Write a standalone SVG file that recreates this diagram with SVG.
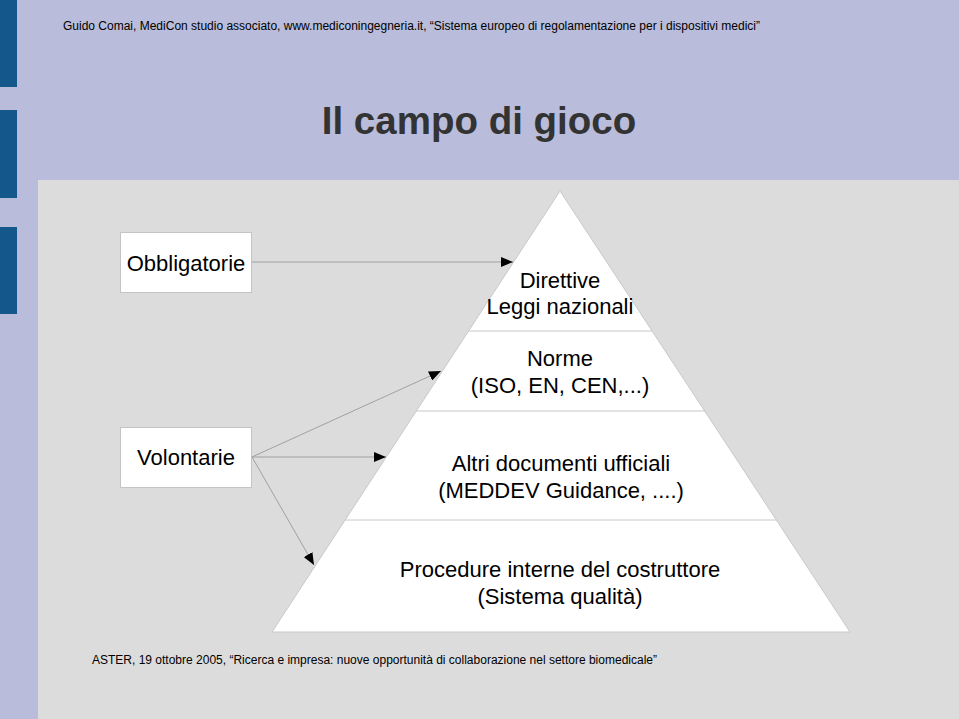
<svg xmlns="http://www.w3.org/2000/svg" width="959" height="719" viewBox="0 0 959 719">
<defs>
<style>
.t{font-family:"Liberation Sans",Arial,sans-serif;fill:#000}
.c{text-anchor:middle;font-size:22px}
.box{fill:#fff;stroke:#c4c4c4;stroke-width:1}
.con{stroke:#a0a0a0;stroke-width:1;fill:none;marker-end:url(#ah)}
.lvl{fill:#fff;stroke:#c8c8c8;stroke-width:1}
</style>
<marker id="ah" viewBox="0 0 12 10" refX="12" refY="5" markerWidth="12" markerHeight="10" markerUnits="userSpaceOnUse" orient="auto">
<path d="M0,0 L12,5 L0,10 Z" fill="#000"/>
</marker>
</defs>
<rect x="0" y="0" width="959" height="719" fill="#b9bcda"/>
<rect x="0" y="0" width="17" height="87" fill="#13578b"/>
<rect x="0" y="110" width="17" height="88" fill="#13578b"/>
<rect x="0" y="227" width="17" height="87" fill="#13578b"/>
<rect x="38" y="180" width="921" height="539" fill="#dcdcdc"/>
<text class="t" x="63" y="30" font-size="12">Guido Comai, MediCon studio associato, www.mediconingegneria.it, “Sistema europeo di regolamentazione per i dispositivi medici”</text>
<text class="t" x="479" y="134" font-size="38.5" font-weight="bold" text-anchor="middle" style="fill:#333">Il campo di gioco</text>
<g id="pyramid">
<polygon class="lvl" points="560,191 272,632 850,632"/>
<line x1="469" y1="331" x2="652" y2="331" stroke="#c8c8c8"/>
<line x1="416" y1="411" x2="705" y2="411" stroke="#c8c8c8"/>
<line x1="345" y1="520" x2="777" y2="520" stroke="#c8c8c8"/>
</g>
<g id="level1">
<text class="t c" x="560" y="288">Direttive</text>
<text class="t c" x="560" y="314">Leggi nazionali</text>
</g>
<g id="level2">
<text class="t c" x="560" y="366">Norme</text>
<text class="t c" x="560" y="393">(ISO, EN, CEN,...)</text>
</g>
<g id="level3">
<text class="t c" x="561" y="471">Altri documenti ufficiali</text>
<text class="t c" x="561" y="498">(MEDDEV Guidance, ....)</text>
</g>
<g id="level4">
<text class="t c" x="560" y="577">Procedure interne del costruttore</text>
<text class="t c" x="560" y="604">(Sistema qualità)</text>
</g>
<g id="obbligatorie">
<rect class="box" x="120.5" y="232.5" width="131" height="60"/>
<text class="t c" x="186" y="271">Obbligatorie</text>
</g>
<g id="volontarie">
<rect class="box" x="120.5" y="427.5" width="131" height="60"/>
<text class="t c" x="186" y="465">Volontarie</text>
</g>
<g id="connectors">
<line class="con" x1="252" y1="262" x2="513" y2="262"/>
<line class="con" x1="252" y1="457" x2="441" y2="371"/>
<line class="con" x1="252" y1="457" x2="386" y2="457"/>
<line class="con" x1="252" y1="457" x2="314" y2="565"/>
</g>
<text class="t" x="92" y="664" font-size="12">ASTER, 19 ottobre 2005, “Ricerca e impresa: nuove opportunità di collaborazione nel settore biomedicale”</text>
</svg>
